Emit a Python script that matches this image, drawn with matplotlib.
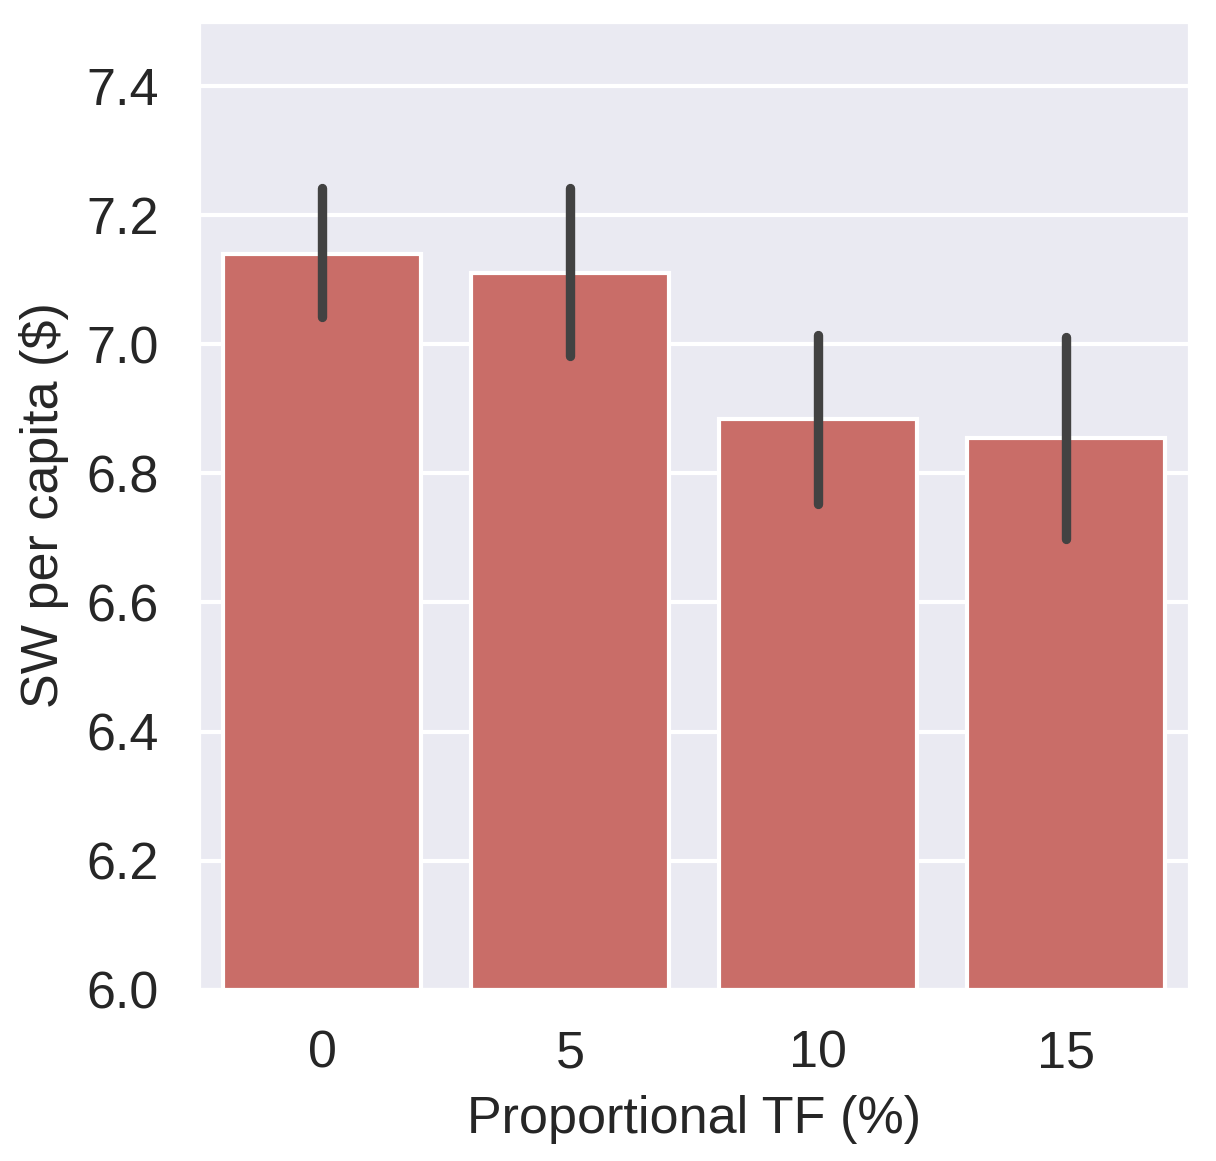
import matplotlib
matplotlib.use("Agg")
import matplotlib.pyplot as plt
import seaborn as sns

# values
tf_levels = ["0", "5", "10", "15"]
sw_mean = [7.14, 7.11, 6.884, 6.855]
ci_low = [7.042, 6.982, 6.752, 6.698]
ci_high = [7.242, 7.242, 7.014, 7.011]

sns.set_theme(style="darkgrid")
plt.rcParams['font.family'] = ['Liberation Sans', 'DejaVu Sans']

fig = plt.figure(figsize=(1216 / 300, 1161 / 300), dpi=300)
ax = fig.add_axes([0.1628, 0.1473, 0.8158, 0.8345])

x = range(len(tf_levels))
ax.bar(x, sw_mean, width=0.8, color="#c96d68", edgecolor="white", linewidth=1, zorder=2)
for xi, lo, hi in zip(x, ci_low, ci_high):
    ax.plot([xi, xi], [lo, hi], color="#424242", linewidth=2.25,
            solid_capstyle="round", zorder=3)

ax.set_xlim(-0.5, 3.5)
ax.set_ylim(6.0, 7.5)
ax.set_yticks([6.0, 6.2, 6.4, 6.6, 6.8, 7.0, 7.2, 7.4])
ax.set_xticks(list(x))
ax.set_xticklabels(tf_levels)
ax.xaxis.grid(False)
ax.tick_params(labelsize=12.5)
ax.set_xlabel("Proportional TF (%)", fontsize=12.5)
ax.set_ylabel("SW per capita ($)", fontsize=12.5)

fig.savefig("out.png", dpi=300)
